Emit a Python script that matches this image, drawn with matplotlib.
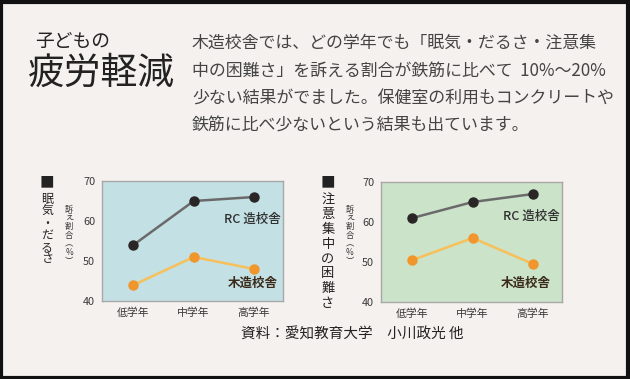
import numpy as np
import matplotlib
matplotlib.use('Agg')
import matplotlib.pyplot as plt
from matplotlib.patches import Rectangle

plt.rcParams['font.family'] = ['Noto Sans CJK JP', 'DejaVu Sans']

grades = ['低学年', '中学年', '高学年']
yticks = [40, 50, 60, 70]

# 眠気・だるさ
rc_sleep = [54, 65, 66]
wood_sleep = [44, 51, 48]
# 注意集中の困難さ
rc_focus = [61, 65, 67]
wood_focus = [50.5, 56, 49.5]

W, H = 630, 379
def fx(px):
    return px / W
def fy(py):
    return 1 - py / H

bg = '#f4f1ee'
txt = '#3a3a3a'

fig = plt.figure(figsize=(6.3, 3.79), dpi=100, facecolor=bg)
fig.patches.append(Rectangle((0.002, 0.003), 0.995, 0.993, transform=fig.transFigure,
                             fill=False, edgecolor='#111111', linewidth=3))

# heading
fig.text(fx(35), fy(41), '子どもの', fontsize=13.5, color='#222222', va='center', ha='left')
fig.text(fx(28), fy(73), '疲労軽減', fontsize=26.5, color='#222222', va='center', ha='left')

lines = ['木造校舎では、どの学年でも「眠気・だるさ・注意集',
         '中の困難さ」を訴える割合が鉄筋に比べて  10%〜20%',
         '少ない結果がでました。保健室の利用もコンクリートや',
         '鉄筋に比べ少ないという結果も出ています。']
for i, l in enumerate(lines):
    fig.text(fx(192), fy(43 + i * 27.7), l, fontsize=12.2, color='#444444', va='center', ha='left')


def vtext(cx, y0, pitch, chars, size, color):
    # 縦書き: 1文字ずつ並べる
    for i, c in enumerate(chars):
        fig.text(fx(cx), fy(y0 + i * pitch), c, fontsize=size, color=color,
                 ha='center', va='center')


def panel(left, bottom, face, rc, wood, title, tx, pitch, tsize, rcpos, wpos):
    ax = fig.add_axes([fx(left), fy(bottom), fx(181), 120 / H])
    ax.set_facecolor(face)
    x = np.arange(len(grades))
    ax.plot(x, rc, '-', color='#6a6a6a', lw=1.8, zorder=2)
    ax.plot(x, rc, 'o', color='#2b2626', ms=6.5, zorder=3)
    ax.plot(x, wood, '-', color='#f7c05a', lw=1.8, zorder=2)
    ax.plot(x, wood, 'o', color='#f0962c', ms=6.5, zorder=3)
    ax.set_xlim(-0.52, 2.48)
    ax.set_ylim(40, 70)
    ax.set_yticks(yticks)
    ax.set_xticks(x)
    ax.set_xticklabels(grades, fontsize=7.8, color=txt)
    ax.tick_params(length=0, pad=5, labelsize=7.8, labelcolor=txt)
    for s in ax.spines.values():
        s.set_color('#a8a8a8')
        s.set_linewidth(1)
    ax.text(rcpos[0], rcpos[1], 'RC 造校舎', fontsize=9, color='#2e2e2e',
            ha='right', va='center', fontweight='medium')
    ax.text(wpos[0], wpos[1], '木造校舎', fontsize=9, color='#3a2a1a',
            ha='right', va='center', fontweight='bold')
    vtext(tx, 183, 0, ['■'], 10.5, '#222222')
    vtext(tx, 200, pitch, title, tsize, '#222222')
    vtext(tx + 22, 209, 8.7, ['訴', 'え', '割', '合', '︵', '%', '︶'], 6, txt)
    return ax


panel(102, 301, '#c3e0e4', rc_sleep, wood_sleep, '眠気・だるさ', 47, 11.8, 8.6,
      (2.45, 60.4), (2.4, 44.5))
panel(381, 302, '#cbe3c9', rc_focus, wood_focus, '注意集中の困難さ', 328, 14.8, 9.5,
      (2.45, 61.4), (2.3, 44.6))

fig.text(fx(241), fy(335), '資料：愛知教育大学　小川政光 他', fontsize=10.5, color='#222222',
         ha='left', va='center')

fig.savefig('out.png', dpi=100, facecolor=bg)
